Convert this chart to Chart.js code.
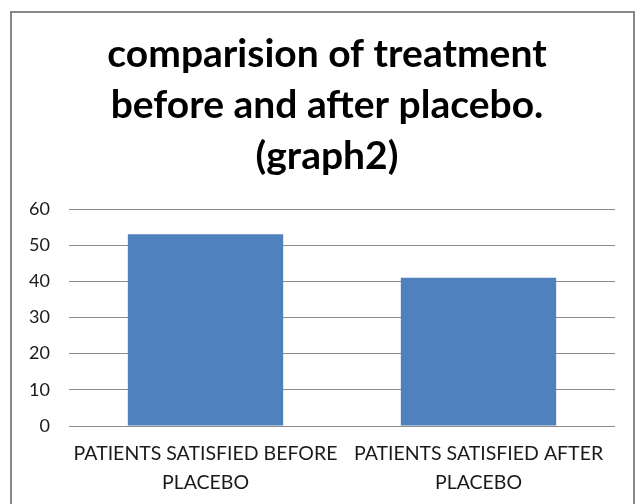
<!DOCTYPE html>
<html>
<head>
<meta charset="utf-8">
<script src="https://cdn.jsdelivr.net/npm/chart.js@4/dist/chart.umd.min.js"></script>
<style>
  html, body { margin: 0; padding: 0; background: #fff; }
  #wrap { position: relative; width: 639px; height: 504px; overflow: hidden; }
  #frame { position: absolute; left: 10px; top: 11px; width: 625px; height: 520px; border: 2px solid #878787; box-sizing: border-box; }
  canvas { position: absolute; left: 0; top: 0; }
</style>
</head>
<body>
<div id="wrap">
  <div id="frame"></div>
  <canvas id="c" width="639" height="504"></canvas>
</div>
<script>
const titleLines = ['comparision of treatment', 'before and after placebo.', '(graph2)'];
const categories = [
  ['PATIENTS SATISFIED BEFORE', 'PLACEBO'],
  ['PATIENTS SATISFIED AFTER', 'PLACEBO']
];
const values = [53, 41];
const yTicks = [0, 10, 20, 30, 40, 50, 60];

new Chart(document.getElementById('c'), {
  type: 'bar',
  data: {
    labels: categories,
    datasets: [{
      data: values,
      backgroundColor: '#4F81BD',
      borderWidth: 0,
      barPercentage: 0.569,
      categoryPercentage: 1.0
    }]
  },
  options: {
    responsive: false,
    animation: false,
    layout: { padding: { left: 15, right: 0, top: 0, bottom: 0 } },
    plugins: {
      legend: { display: false },
      tooltip: { enabled: false },
      title: {
        display: true,
        text: titleLines,
        color: '#000',
        font: { family: 'Lato', weight: 'bold', size: 39, lineHeight: '51px' },
        padding: { top: 29, bottom: 27 }
      }
    },
    scales: {
      x: {
        grid: { display: false, drawTicks: false },
        border: { display: false },
        ticks: {
          color: '#1a1a1a',
          font: { family: 'Lato', size: 19.5, lineHeight: '29px' },
          padding: 13,
          maxRotation: 0,
          minRotation: 0,
          autoSkip: false
        },
        afterFit: (s) => { s.height = 78; }
      },
      y: {
        min: 0,
        max: 60,
        afterBuildTicks: (s) => { s.ticks = yTicks.map(v => ({ value: v })); },
        grid: { color: '#8c8c8c', lineWidth: 1, drawTicks: false },
        border: { display: false },
        ticks: {
          color: '#1a1a1a',
          font: { family: 'Lato', size: 18 },
          padding: 19
        },
        afterFit: (s) => { s.width = 54; }
      },
      yRight: {
        position: 'right',
        display: true,
        min: 0,
        max: 60,
        grid: { display: false, drawTicks: false },
        border: { display: false },
        ticks: { display: false },
        afterFit: (s) => { s.width = 24; }
      }
    }
  }
});
</script>
</body>
</html>
